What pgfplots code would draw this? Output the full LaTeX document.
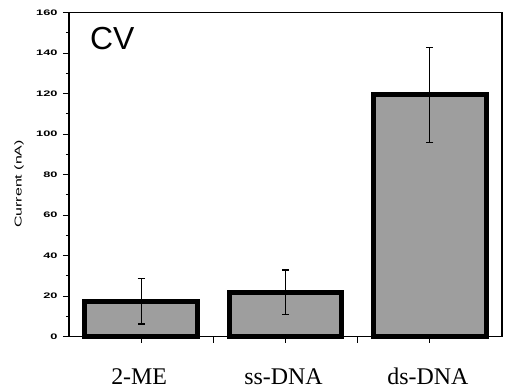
\documentclass[border=0pt]{standalone}
\usepackage{fontspec}
\setmainfont{Liberation Serif}
\newfontfamily\arial{Liberation Sans}
\newfontfamily\arialwide[FakeStretch=1.6]{Liberation Sans}
\usepackage{pgfplots}
\pgfplotsset{compat=1.18}
\begin{document}
\begin{tikzpicture}
\begin{axis}[
  scale only axis,
  width=433bp, height=324bp,
  xmin=-0.5, xmax=2.5,
  ymin=0, ymax=160,
  ytick={0,20,...,160},
  minor ytick={10,30,...,150},
  xtick={0,0.5,1,1.5,2},
  xticklabels={2-ME,,ss-DNA,,ds-DNA},
  ytick pos=left, xtick pos=bottom,
  tick align=outside,
  major tick length=6bp,
  minor tick length=3bp,
  every tick/.style={black, line width=1bp},
  axis line style={line width=1.2bp},
  /pgf/number format/assume math mode=true,
  yticklabel style={font=\arialwide\bfseries\fontsize{8}{8}\selectfont, xshift=-2bp},
  xticklabel style={font=\fontsize{24}{24}\selectfont, anchor=base, yshift=-41.3bp, xshift=-2bp},
  clip=false,
]
\addplot[ybar, bar width=0.78, fill=black!38, draw=black, line width=5bp,
  error bars/.cd, y dir=both, y explicit,
  error bar style={line width=1.3bp, black},
  error mark options={rotate=90, mark size=3.5bp, line width=1.3bp, black}]
  coordinates {
    (0,17.4) +- (0,11.2)
    (1,22.0) +- (0,11.0)
    (2,119.4) +- (0,23.4)
  };
\coordinate (bl) at (rel axis cs:0,0);
\coordinate (tr) at (rel axis cs:1,1);
\node[anchor=base west, inner sep=0, font=\arial\fontsize{32}{32}\selectfont]
  at ([shift={(21bp,-37.3bp)}]rel axis cs:0,1) {CV};
\node[rotate=90, anchor=center, inner sep=0, font=\arialwide\fontsize{10}{10}\selectfont]
  at ([shift={(-50bp,-9.3bp)}]rel axis cs:0,0.5) {Current (nA)};
\end{axis}
\pgfresetboundingbox
\path ([shift={(-69bp,-51.3bp)}]bl) rectangle ([shift={(7bp,12.7bp)}]tr);
\end{tikzpicture}
\end{document}
